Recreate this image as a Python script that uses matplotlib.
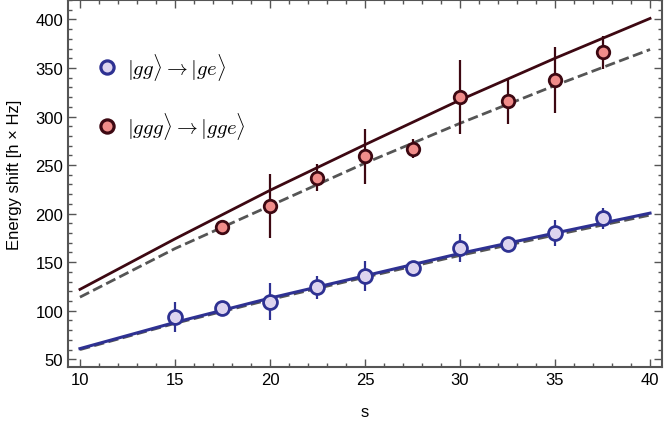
import matplotlib.pyplot as plt
from matplotlib.lines import Line2D

plt.rcParams['font.family'] = ['Liberation Sans', 'DejaVu Sans']
plt.rcParams['mathtext.fontset'] = 'cm'

# measured points
s_pts = [15, 17.5, 20, 22.5, 25, 27.5, 30, 32.5, 35, 37.5]
two_y = [94, 102.8, 109.4, 124, 135.5, 143.7, 165, 169, 180, 195.2]
two_err = [15.5, 3, 19, 11.5, 15.5, 3, 14.5, 3, 13.5, 11]

s_red = [17.5, 20, 22.5, 25, 27.5, 30, 32.5, 35, 37.5]
three_y = [186, 207.5, 237, 259, 267, 320, 316, 338, 366]
three_err = [3, 33, 14, 28, 10, 38, 24, 34, 17]

# theory curves
s_th = [10, 15, 20, 25, 30, 35, 40]
two_th = [61, 88, 113, 136, 159, 180, 200.5]
two_th_dash = [60, 87, 111.5, 134.5, 157, 178, 198.5]
three_th = [122, 174, 224, 271, 317, 360, 401]
three_th_dash = [114, 164, 208, 252, 293, 332, 369]

blue = '#2e3192'
blue_face = '#ddd4ef'
maroon = '#3d0812'
red_face = '#f08c8a'
grey = '#555555'

fig = plt.figure(figsize=(6.64, 4.27), dpi=100)
ax = fig.add_axes([0.1024, 0.138, 0.8946, 0.8597])

ax.plot(s_th, two_th_dash, '--', color=grey, lw=2, zorder=1)
ax.plot(s_th, three_th_dash, '--', color=grey, lw=2, zorder=1)
ax.plot(s_th, two_th, '-', color=blue, lw=2.2, zorder=2)
ax.plot(s_th, three_th, '-', color=maroon, lw=2, zorder=2)

ax.errorbar(s_pts, two_y, yerr=two_err, fmt='o', ms=10, mfc=blue_face, mec=blue,
            mew=2, ecolor=blue, elinewidth=1.6, capsize=0, zorder=3)
ax.errorbar(s_red, three_y, yerr=three_err, fmt='o', ms=9, mfc=red_face, mec=maroon,
            mew=2, ecolor=maroon, elinewidth=1.6, capsize=0, zorder=3)

ax.set_xlim(9.37, 40.63)
ax.set_ylim(42, 420)
ax.set_xticks([10, 15, 20, 25, 30, 35, 40])
ax.set_yticks([50, 100, 150, 200, 250, 300, 350, 400])
ax.minorticks_on()
ax.tick_params(which='both', direction='in', top=True, right=True, color=grey,
               labelsize=12)
ax.tick_params(which='major', length=6, width=1)
ax.tick_params(which='minor', length=3, width=1)
for sp in ax.spines.values():
    sp.set_color(grey)
    sp.set_linewidth(1.5)

ax.set_xlabel('s', fontsize=12, labelpad=12)
ax.set_ylabel('Energy shift [h × Hz]', fontsize=12)
ax.yaxis.set_label_coords(-0.078, 0.526)

handles = [
    Line2D([], [], ls='', marker='o', ms=9.5, mfc=blue_face, mec=blue, mew=2.3),
    Line2D([], [], ls='', marker='o', ms=9.5, mfc=red_face, mec=maroon, mew=2.3),
]
labels = [r'$|gg\rangle \rightarrow |ge\rangle$',
          r'$|ggg\rangle \rightarrow |gge\rangle$']
ax.legend(handles, labels, loc='upper left', bbox_to_anchor=(0.007, 0.912),
          frameon=False, fontsize=15, labelspacing=1.35, handletextpad=0.25,
          handlelength=1.5)

fig.savefig('out.png', dpi=100)
